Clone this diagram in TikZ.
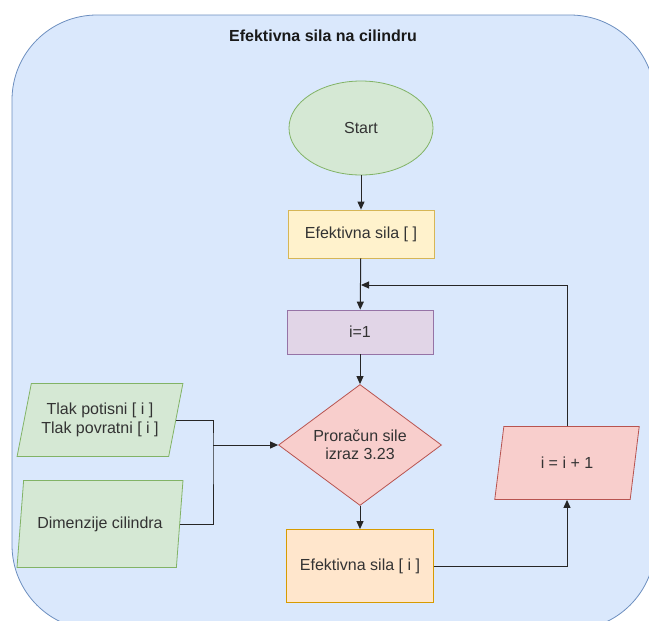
\documentclass[tikz,border=0pt]{standalone}
\usepackage{fontspec}
\setmainfont{Liberation Sans}
\usetikzlibrary{shapes.geometric,arrows.meta}
\definecolor{bgfill}{HTML}{DAE8FC}\definecolor{bgline}{HTML}{6C8EBF}
\definecolor{gfill}{HTML}{D5E8D4}\definecolor{gline}{HTML}{82B366}
\definecolor{yfill}{HTML}{FFF2CC}\definecolor{yline}{HTML}{D6B656}
\definecolor{pfill}{HTML}{E1D5E7}\definecolor{pline}{HTML}{9673A6}
\definecolor{rfill}{HTML}{F8CECC}\definecolor{rline}{HTML}{B85450}
\definecolor{ofill}{HTML}{FFE6CC}\definecolor{oline}{HTML}{D79B00}
\definecolor{txt}{HTML}{333333}
\tikzset{
  base/.style={draw, line width=0.8pt, text=txt, font=\fontsize{16}{18.5}\selectfont, align=center, inner sep=0pt},
  startnode/.style={base, ellipse, fill=gfill, draw=gline, minimum width=144pt, minimum height=94pt},
  procbox/.style={base, rectangle, minimum width=146pt},
  decision/.style={base, diamond, fill=rfill, draw=rline, minimum width=163pt, minimum height=121pt, aspect=1.35},
  para/.style={base, trapezium, trapezium stretches=true, trapezium left angle=#1, trapezium right angle=180-#1},
  conn/.style={line width=1pt, draw=black!85},
  arr/.style={conn, -{Triangle[length=8pt,width=7pt]}}
}
\begin{document}
\begin{tikzpicture}[x=1pt,y=-1pt]
\useasboundingbox (0,0) rectangle (649,621);
\begin{scope}
\clip (0,0) rectangle (649,621);
\draw[fill=bgfill, draw=bgline, line width=0.8pt, rounded corners=85pt] (12,15) rectangle (655,630);
\end{scope}
\node[font=\fontsize{16}{18}\selectfont\bfseries, text=black!90] (title) at (323,36) {Efektivna sila na cilindru};
\node[startnode] (start) at (361,128) {Start};
\node[procbox, fill=yfill, draw=yline, minimum height=48pt] (ef0) at (361,234) {Efektivna sila [ ]};
\node[procbox, fill=pfill, draw=pline, minimum height=44pt] (init) at (360,332) {i=1};
\node[decision] (calc) at (360,445) {Proračun sile\\izraz 3.23};
\node[procbox, fill=ofill, draw=oline, minimum width=147pt, minimum height=73pt] (efi) at (360,566) {Efektivna sila [ i ]};
\node[para=72, fill=rfill, draw=rline, minimum width=145pt, minimum height=73pt] (inc) at (567,463) {i = i + 1};
\node[para=70, fill=gfill, draw=gline, minimum width=166pt, minimum height=73pt] (tlak) at (100,420) {Tlak potisni [ i ]\\Tlak povratni [ i ]};
\node[para=70, fill=gfill, draw=gline, minimum width=166pt, minimum height=87pt] (dim) at (100,524) {Dimenzije cilindra};
\coordinate (loopc) at (361,285);
\coordinate (junc) at (213,445);
\draw[arr] (start) -- (ef0);
\draw[arr] (ef0) -- (init);
\draw[arr] (init) -- (calc);
\draw[arr] (calc) -- (efi);
\draw[arr] (efi.east) -| (inc.south);
\draw[arr] (inc.north) |- (loopc);
\draw[conn] (tlak.east) -| (junc) |- (dim.east);
\draw[arr] (junc) -- (calc.west);
\end{tikzpicture}
\end{document}
